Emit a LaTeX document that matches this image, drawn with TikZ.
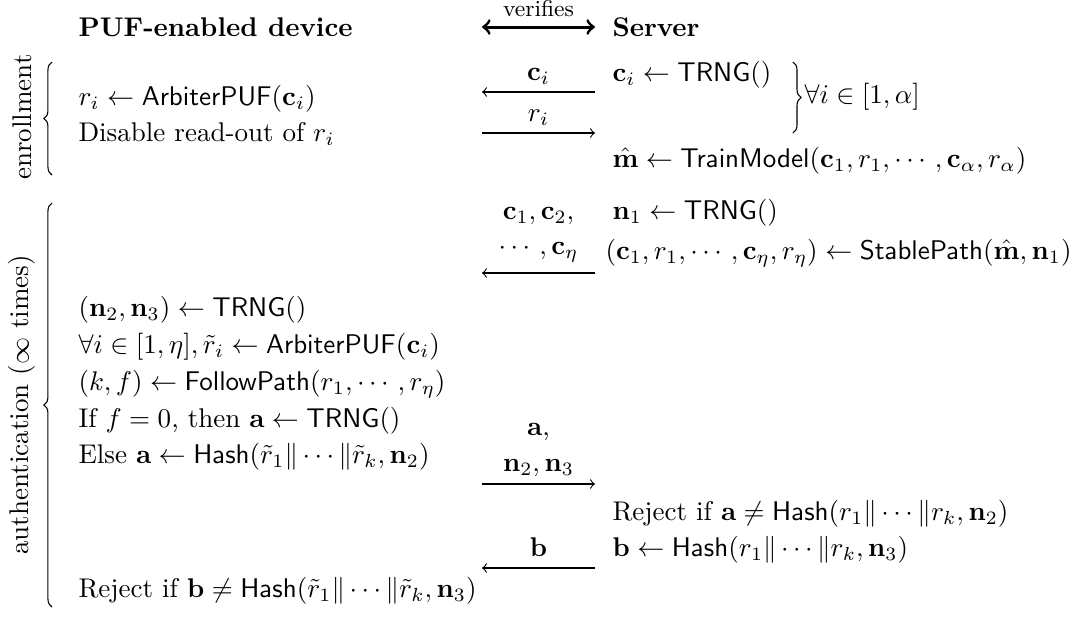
\documentclass[tikz,border=0pt]{standalone}
\usepackage{amsmath,amssymb}
\usetikzlibrary{decorations.pathreplacing}
\begin{document}
\begin{tikzpicture}[x=0.37pt,y=-0.37pt,
  txt/.style={anchor=base west,inner sep=0pt},
  lbl/.style={anchor=base,inner sep=0pt},
  msg/.style={line width=0.4pt},
  brc/.style={decorate,decoration={brace,amplitude=3pt},line width=0.4pt}]
\useasboundingbox (0,0) rectangle (1075,616);
% headers
\node[txt] (dev) at (78,36) {\textbf{PUF-enabled device}};
\node[txt] (srv) at (612,36) {\textbf{Server}};
\coordinate (vL) at (482,27);
\coordinate (vR) at (595,27);
\draw[<->,line width=1.1pt] (vL) -- (vR);
\node[lbl] (ver) at (538.5,16) {\fontsize{8.5}{10}\selectfont verifies};
% enrollment
\node[lbl] (lci) at (538.5,80) {$\mathbf{c}_i$};
\coordinate (m1L) at (482,92);
\coordinate (m1R) at (595,92);
\draw[msg,<-] (m1L) -- (m1R);
\node[txt] (sci) at (612,81) {$\mathbf{c}_i \leftarrow \mathsf{TRNG}()$};
\node[lbl] (lri) at (538.5,121) {$r_i$};
\coordinate (m2L) at (482,133);
\coordinate (m2R) at (595,133);
\draw[msg,->] (m2L) -- (m2R);
\node[txt] (dri) at (78,105) {$r_i \leftarrow \mathsf{ArbiterPUF}(\mathbf{c}_i)$};
\node[txt] (dis) at (78,141) {Disable read-out of $r_i$};
\coordinate (rbT) at ([xshift=21*0.37pt]sci.east |- 0,62);
\coordinate (rbB) at ([xshift=21*0.37pt]sci.east |- 0,133);
\draw[brc] (rbT) -- (rbB);
\node[txt] (fa) at ([xshift=11*0.37pt]rbT |- 0,103) {$\forall i \in [1,\alpha]$};
\node[txt] (trm) at (612,167) {$\hat{\mathbf{m}} \leftarrow \mathsf{TrainModel}(\mathbf{c}_1, r_1, \cdots, \mathbf{c}_\alpha, r_\alpha)$};
\coordinate (ebB) at (52,175);
\coordinate (ebT) at (52,62);
\draw[brc] (ebB) -- (ebT);
\node[rotate=90,inner sep=0pt] (enr) at (22,117) {enrollment};
% authentication
\coordinate (abB) at (52,607);
\coordinate (abT) at (52,203);
\draw[brc] (abB) -- (abT);
\node[rotate=90,inner sep=0pt] (aut) at (22,405) {authentication ($\infty$ times)};
\node[lbl] (lc1) at (538.5,219) {$\mathbf{c}_1,\mathbf{c}_2,$};
\node[lbl] (lc2) at (538.5,254) {$\cdots,\mathbf{c}_\eta$};
\coordinate (m3L) at (482,273);
\coordinate (m3R) at (595,273);
\draw[msg,<-] (m3L) -- (m3R);
\node[txt] (sn1) at (612,219) {$\mathbf{n}_1 \leftarrow \mathsf{TRNG}()$};
\node[txt] (ssp) at (605,259) {$(\mathbf{c}_1, r_1, \cdots, \mathbf{c}_\eta, r_\eta) \leftarrow \mathsf{StablePath}(\hat{\mathbf{m}}, \mathbf{n}_1)$};
\node[txt] (d1) at (78,316) {$(\mathbf{n}_2,\mathbf{n}_3) \leftarrow \mathsf{TRNG}()$};
\node[txt] (d2) at (78,353) {$\forall i \in [1,\eta], \tilde{r}_i \leftarrow \mathsf{ArbiterPUF}(\mathbf{c}_i)$};
\node[txt] (d3) at (78,390) {$(k,f) \leftarrow \mathsf{FollowPath}(r_1,\cdots,r_\eta)$};
\node[txt] (d4) at (78,427) {If $f=0$, then $\mathbf{a} \leftarrow \mathsf{TRNG}()$};
\node[txt] (d5) at (78,463) {Else $\mathbf{a} \leftarrow \mathsf{Hash}(\tilde{r}_1\|\cdots\|\tilde{r}_k, \mathbf{n}_2)$};
\node[lbl] (la1) at (538.5,435) {$\mathbf{a}$,};
\node[lbl] (la2) at (538.5,471) {$\mathbf{n}_2,\mathbf{n}_3$};
\coordinate (m4L) at (482,484);
\coordinate (m4R) at (595,484);
\draw[msg,->] (m4L) -- (m4R);
\node[txt] (s1) at (612,520) {Reject if $\mathbf{a} \neq \mathsf{Hash}(r_1\|\cdots\|r_k,\mathbf{n}_2)$};
\node[lbl] (lb) at (538.5,556) {$\mathbf{b}$};
\node[txt] (s2) at (612,556) {$\mathbf{b} \leftarrow \mathsf{Hash}(r_1\|\cdots\|r_k,\mathbf{n}_3)$};
\coordinate (m5L) at (482,568);
\coordinate (m5R) at (595,568);
\draw[msg,<-] (m5L) -- (m5R);
\node[txt] (d6) at (78,597) {Reject if $\mathbf{b} \neq \mathsf{Hash}(\tilde{r}_1\|\cdots\|\tilde{r}_k,\mathbf{n}_3)$};
\end{tikzpicture}
\end{document}
